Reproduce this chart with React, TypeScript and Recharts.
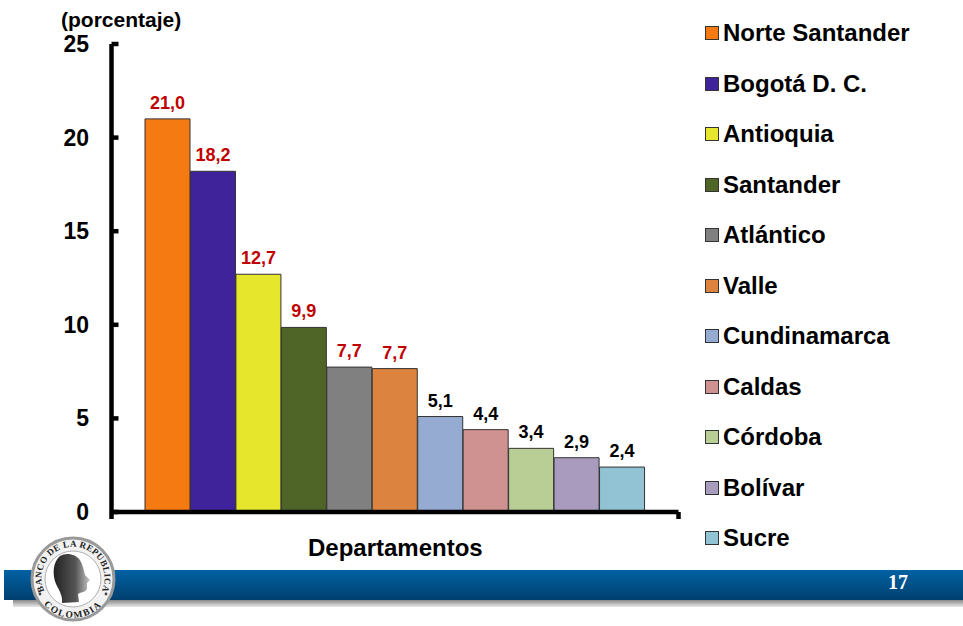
import { BarChart, Bar, Cell, XAxis, YAxis, LabelList, usePlotArea } from "recharts";

// ── Data ───────────────────────────────────────────────────────────────────────

const departamentos = [
  "Norte Santander", "Bogotá D. C.", "Antioquia", "Santander", "Atlántico", "Valle",
  "Cundinamarca", "Caldas", "Córdoba", "Bolívar", "Sucre",
];
const porcentajes = [21.0, 18.2, 12.7, 9.86, 7.74, 7.66, 5.1, 4.4, 3.4, 2.9, 2.4];
const colores = [
  "#F67A12", "#3F239B", "#E6E62D", "#4F6427", "#808080", "#DC843F",
  "#95ABD1", "#D09291", "#B8CE94", "#A99BBD", "#92C3D4",
];
const yTicks = [0, 5, 10, 15, 20, 25];
const RED_LABELS = 6; // the first six values are printed in red

const chartData = departamentos.map((name, i) => ({ name, value: porcentajes[i] }));

const FONT = "'Liberation Sans', Arial, sans-serif";
const AXIS_WIDTH = 4.5;

// ── Axis details ───────────────────────────────────────────────────────────────

function YTick({ x, y, payload }: any) {
  return (
    <g>
      <line x1={x} x2={x + 7} y1={y} y2={y} stroke="#000" strokeWidth={AXIS_WIDTH} />
      <text x={x - 22.5} y={y + 8} textAnchor="end" fontSize={23} fontWeight="bold" fontFamily={FONT} fill="#000">
        {payload.value}
      </text>
    </g>
  );
}

// The two end ticks of the category axis hang below the line
function XEndTicks() {
  const p = usePlotArea();
  if (!p) return null;
  const bottom = p.y + p.height;
  return (
    <g>
      <line x1={p.x} x2={p.x} y1={bottom} y2={bottom + 7} stroke="#000" strokeWidth={AXIS_WIDTH} />
      <line x1={p.x + p.width} x2={p.x + p.width} y1={bottom} y2={bottom + 7} stroke="#000" strokeWidth={AXIS_WIDTH} />
    </g>
  );
}

function BarValue({ x, y, width, value, index }: any) {
  return (
    <text
      x={x + width / 2}
      y={y - 10}
      textAnchor="middle"
      fontSize={18}
      fontWeight="bold"
      fontFamily={FONT}
      fill={index < RED_LABELS ? "#C00000" : "#000"}
    >
      {Number(value).toFixed(1).replace(".", ",")}
    </text>
  );
}

// ── Footer: blue band with the bank's seal ─────────────────────────────────────

function Footer() {
  return (
    <svg width={963} height={626} style={{ position: "absolute", left: 0, top: 0 }}>
      <defs>
        <linearGradient id="band" x1="0" y1="0" x2="0" y2="1">
          <stop offset="0" stopColor="#0062A3" />
          <stop offset="1" stopColor="#003F6E" />
        </linearGradient>
        <linearGradient id="bandShadow" x1="0" y1="0" x2="0" y2="1">
          <stop offset="0" stopColor="#8A8A8A" />
          <stop offset="1" stopColor="#E8E8E8" />
        </linearGradient>
        <linearGradient id="head" x1="0" y1="0" x2="1" y2="0">
          <stop offset="0" stopColor="#222" />
          <stop offset="0.6" stopColor="#555" />
          <stop offset="1" stopColor="#C8C8C8" />
        </linearGradient>
        <path id="sealTop" d="M 47.6 596.8 A 31.5 31.5 0 1 1 98.4 596.8" />
        <path id="sealBottom" d="M 45.4 606.4 A 39 39 0 0 0 100.6 606.4" />
      </defs>
      <rect x={13} y={600} width={950} height={7} fill="url(#bandShadow)" />
      <rect x={4} y={570} width={959} height={30} fill="url(#band)" />
      <text x={898} y={589} textAnchor="middle" fontSize={20} fontWeight="bold" fontFamily="'Liberation Serif', serif" fill="#fff">
        17
      </text>
      <circle cx={73} cy={579} r={41} fill="#F2F2F2" stroke="#999" strokeWidth={3} />
      <circle cx={73} cy={579} r={28} fill="#FFFFFF" stroke="#B0B0B0" strokeWidth={1} />
      <text fontSize={9} fontWeight="bold" fontFamily="'Liberation Serif', serif" fill="#222" letterSpacing={0.4}>
        <textPath href="#sealTop" startOffset="50%" textAnchor="middle">BANCO DE LA REPUBLICA</textPath>
      </text>
      <text fontSize={9.5} fontWeight="bold" fontFamily="'Liberation Serif', serif" fill="#222" letterSpacing={1.5}>
        <textPath href="#sealBottom" startOffset="50%" textAnchor="middle">COLOMBIA</textPath>
      </text>
      <circle cx={40} cy={594} r={1.4} fill="#444" />
      <circle cx={106} cy={594} r={1.4} fill="#444" />
      {/* profile of the head on the seal */}
      <path
        d="M 60 556 C 66 552 76 554 80 560 C 83 565 84 571 85 575 L 90 580 L 87 583 L 87 589 C 85 593 80 592 78 594 L 79 602 L 62 603 C 63 596 59 590 56 584 C 52 574 53 562 60 556 Z"
        fill="url(#head)"
      />
    </svg>
  );
}

// ── Legend ──────────────────────────────────────────────────────────────────────

function LegendList() {
  return (
    <div style={{ position: "absolute", left: 705, top: 8, fontFamily: FONT }}>
      {departamentos.map((name, i) => (
        <div key={name} style={{ height: 50.5, display: "flex", alignItems: "center" }}>
          <span
            style={{
              width: 12,
              height: 12,
              background: colores[i],
              border: "1px solid #333",
              marginRight: 4,
              boxSizing: "content-box",
            }}
          />
          <span style={{ fontSize: 24, fontWeight: "bold", color: "#000", whiteSpace: "nowrap" }}>{name}</span>
        </div>
      ))}
    </div>
  );
}

// ── Component ──────────────────────────────────────────────────────────────────

export default function App() {
  return (
    <div style={{ position: "absolute", left: 0, top: 0, width: 963, height: 626, background: "#fff", overflow: "hidden" }}>
      <Footer />
      <div style={{ position: "absolute", left: 0, top: 0 }}>
        <BarChart
          width={963}
          height={626}
          data={chartData}
          margin={{ top: 44, right: 284.5, bottom: 0, left: 0 }}
          barCategoryGap={0}
          barGap={0}
        >
          <XAxis
            dataKey="name"
            tick={false}
            tickLine={false}
            axisLine={{ stroke: "#000", strokeWidth: AXIS_WIDTH }}
            padding={{ left: 33.5, right: 33.5 }}
            height={114}
          />
          <YAxis
            domain={[0, 25]}
            ticks={yTicks}
            interval={0}
            tick={<YTick />}
            tickLine={false}
            tickSize={0}
            tickMargin={0}
            axisLine={{ stroke: "#000", strokeWidth: AXIS_WIDTH }}
            width={111.5}
          />
          <Bar dataKey="value" stroke="#333" strokeWidth={1} isAnimationActive={false}>
            {chartData.map((d, i) => (
              <Cell key={d.name} fill={colores[i]} />
            ))}
            <LabelList dataKey="value" content={<BarValue />} />
          </Bar>
          <XEndTicks />
        </BarChart>
      </div>
      <div style={{ position: "absolute", left: 61, top: 8, fontFamily: FONT, fontWeight: "bold", fontSize: 21, color: "#000" }}>
        (porcentaje)
      </div>
      <div style={{ position: "absolute", left: 308, top: 534, fontFamily: FONT, fontWeight: "bold", fontSize: 24, color: "#000" }}>
        Departamentos
      </div>
      <LegendList />
    </div>
  );
}
